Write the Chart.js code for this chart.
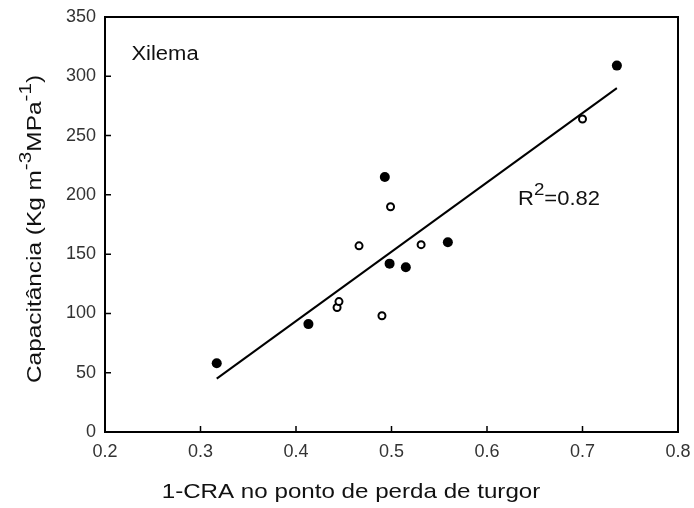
<!DOCTYPE html>
<html>
<head>
<meta charset="utf-8">
<script src="https://cdn.jsdelivr.net/npm/chart.js@4"></script>
<style>
  body { margin: 0; background: #fff; }
  #wrap { width: 694px; height: 508px; }
</style>
</head>
<body>
<div id="wrap"><canvas id="chart" width="694" height="508"></canvas></div>
<script>
// data
const filledX = [0.317, 0.413, 0.493, 0.498, 0.515, 0.559, 0.736];
const filledY = [58, 91, 215, 142, 139, 160, 309];
const openX = [0.443, 0.445, 0.466, 0.490, 0.499, 0.531, 0.700];
const openY = [105, 110, 157, 98, 190, 158, 264];
const fitX = [0.317, 0.736];
const fitY = [45, 290];
const xTicks = [0.2, 0.3, 0.4, 0.5, 0.6, 0.7, 0.8];
const yTicks = [0, 50, 100, 150, 200, 250, 300, 350];

const FONT = '"Liberation Sans", Arial, sans-serif';

const pts = (xs, ys) => xs.map((v, i) => ({ x: v, y: ys[i] }));

// text with superscript pieces, centred on (cx, cy); sx stretches it along its length
function richText(ctx, parts, cx, cy, size, angle, sx) {
  const sup = Math.round(size * 0.85);
  ctx.save();
  ctx.translate(cx, cy);
  ctx.rotate(angle || 0);
  ctx.scale(sx || 1, 1);
  ctx.textBaseline = 'middle';
  ctx.textAlign = 'left';
  let total = 0;
  parts.forEach(p => {
    ctx.font = (p.sup ? sup : size) + 'px ' + FONT;
    p.w = ctx.measureText(p.t).width;
    total += p.w;
  });
  let x = -total / 2;
  parts.forEach(p => {
    ctx.font = (p.sup ? sup : size) + 'px ' + FONT;
    ctx.fillText(p.t, x, p.sup ? -size * 0.42 : 0);
    x += p.w;
  });
  ctx.restore();
}

const frame = {
  id: 'frame',
  afterDraw(chart) {
    const { ctx, chartArea: a, scales: { x, y } } = chart;
    ctx.save();
    ctx.strokeStyle = '#000';
    ctx.lineWidth = 2;
    ctx.strokeRect(a.left, a.top, a.right - a.left, a.bottom - a.top);
    ctx.beginPath();
    xTicks.forEach(v => {
      const px = x.getPixelForValue(v);
      ctx.moveTo(px, a.bottom);
      ctx.lineTo(px, a.bottom - 6);
    });
    yTicks.forEach(v => {
      const py = y.getPixelForValue(v);
      ctx.moveTo(a.left, py);
      ctx.lineTo(a.left + 6, py);
    });
    ctx.lineWidth = 1.5;
    ctx.stroke();

    ctx.fillStyle = '#111';
    // annotations
    richText(ctx, [{ t: 'Xilema' }], 165, 54, 20, 0, 1.1);
    richText(ctx, [{ t: 'R' }, { t: '2', sup: true }, { t: '=0.82' }], 559, 199, 20, 0, 1.1);

    // axis titles
    richText(ctx, [{ t: 'Capacitância (Kg m' }, { t: '-3', sup: true }, { t: 'MPa' }, { t: '-1', sup: true }, { t: ')' }],
      35, 229, 20, -Math.PI / 2, 1.22);
    richText(ctx, [{ t: '1-CRA no ponto de perda de turgor' }], 351, 492, 21, 0, 1.15);
    ctx.restore();
  }
};

new Chart(document.querySelector('#chart').getContext('2d'), {
  type: 'scatter',
  data: {
    datasets: [
      {
        label: 'ajuste',
        type: 'line',
        data: pts(fitX, fitY),
        borderColor: '#000',
        borderWidth: 2,
        pointRadius: 0,
        fill: false
      },
      {
        label: 'cheio',
        data: pts(filledX, filledY),
        backgroundColor: '#000',
        borderColor: '#000',
        pointRadius: 5,
        borderWidth: 0
      },
      {
        label: 'aberto',
        data: pts(openX, openY),
        backgroundColor: '#fff',
        borderColor: '#000',
        pointRadius: 3.5,
        borderWidth: 2
      }
    ]
  },
  options: {
    responsive: false,
    animation: false,
    layout: { padding: { left: 0, top: 17, right: 16, bottom: 0 } },
    plugins: { legend: { display: false }, tooltip: { enabled: false } },
    scales: {
      x: {
        type: 'linear',
        min: 0.2, max: 0.8,
        afterBuildTicks: s => { s.ticks = xTicks.map(v => ({ value: v })); },
        afterFit: s => { s.height = 76; s.paddingLeft = 0; s.paddingRight = 0; },
        grid: { display: false, drawTicks: false },
        border: { display: false },
        ticks: { padding: 9, color: '#333', font: { family: FONT, size: 18 }, callback: v => v.toFixed(1) }
      },
      y: {
        type: 'linear',
        min: 0, max: 350,
        afterBuildTicks: s => { s.ticks = yTicks.map(v => ({ value: v })); },
        afterFit: s => { s.width = 105; s.paddingTop = 0; s.paddingBottom = 0; },
        grid: { display: false, drawTicks: false },
        border: { display: false },
        ticks: { padding: 9, color: '#333', font: { family: FONT, size: 18 } }
      }
    }
  },
  plugins: [frame]
});
</script>
</body>
</html>
